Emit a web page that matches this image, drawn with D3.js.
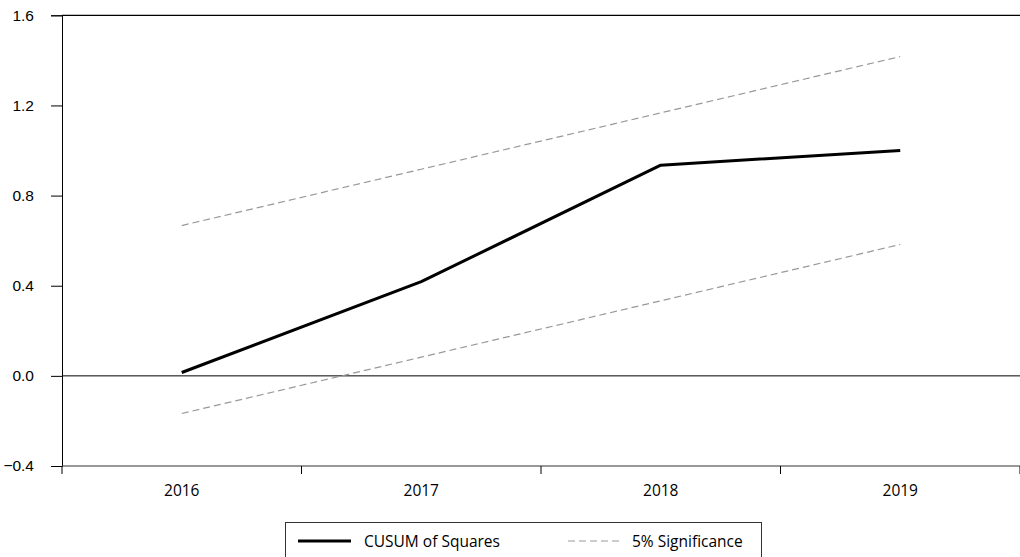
<!DOCTYPE html>
<html>
<head>
<meta charset="utf-8">
<script src="https://cdn.jsdelivr.net/npm/d3@7"></script>
<style>
  html, body { margin: 0; padding: 0; background: #fff; }
  svg { display: block; font-family: "Open Sans", "Noto Sans", sans-serif; }
</style>
</head>
<body>
<svg id="chart" width="1020" height="557"></svg>
<script>
// CUSUM of squares test with 5% significance bounds
const years = ["2016", "2017", "2018", "2019"];
const cusumSq = [0.015, 0.418, 0.935, 1.0];
const upperBound = [0.667, 0.917, 1.167, 1.417];
const lowerBound = [-0.167, 0.083, 0.333, 0.583];
const yTicks = [-0.4, 0.0, 0.4, 0.8, 1.2, 1.6];
const legendLabels = ["CUSUM of Squares", "5% Significance"];

const svg = d3.select("#chart");
const plotLeft = 62, plotRight = 1020, plotTop = 15.3, plotBottom = 466;
const fontSize = 15.5;

const x = d3.scaleBand().domain(years).range([plotLeft, plotRight]).paddingInner(0).paddingOuter(0);
const y = d3.scaleLinear().domain([-0.4, 1.6]).range([plotBottom, plotTop]);
const cx = d => x(d) + x.bandwidth() / 2;

const fmt = v => (v < 0 ? "\u2212" : "") + Math.abs(v).toFixed(1);

// Left axis
const yAxis = svg.append("g")
  .attr("transform", `translate(${plotLeft},0)`)
  .call(d3.axisLeft(y).tickValues(yTicks).tickFormat(fmt).tickSize(11).tickPadding(17));
yAxis.select(".domain").attr("stroke", "#000");
yAxis.selectAll(".tick line").attr("stroke", "#000");
yAxis.selectAll("text").attr("font-size", fontSize).attr("fill", "#000");

// Bottom axis: ticks at category boundaries, labels centred in each band
const boundaries = years.map(d => x(d)).concat([plotRight]);
const xAxisG = svg.append("g").attr("transform", `translate(0,${plotBottom})`);
xAxisG.append("line").attr("x1", plotLeft).attr("x2", plotRight).attr("y1", 0).attr("y2", 0)
  .attr("stroke", "#333").attr("stroke-width", 1.2);
xAxisG.selectAll("line.tk").data(boundaries).join("line").attr("class", "tk")
  .attr("x1", d => d).attr("x2", d => d).attr("y1", 0).attr("y2", 8)
  .attr("stroke", "#000");
xAxisG.selectAll("text").data(years).join("text")
  .attr("x", d => cx(d)).attr("y", 30)
  .attr("text-anchor", "middle").attr("font-size", fontSize).attr("fill", "#000")
  .text(d => d);

// Top frame line
svg.append("line").attr("x1", plotLeft).attr("x2", plotRight).attr("y1", plotTop).attr("y2", plotTop)
  .attr("stroke", "#000").attr("stroke-width", 1.2);

// Zero reference line
svg.append("line").attr("x1", plotLeft).attr("x2", plotRight).attr("y1", y(0)).attr("y2", y(0))
  .attr("stroke", "#000").attr("stroke-width", 1);

const line = d3.line().x((d, i) => cx(years[i])).y(d => y(d));

// Significance bounds
[upperBound, lowerBound].forEach(b => {
  svg.append("path").datum(b).attr("d", line)
    .attr("fill", "none").attr("stroke", "#999").attr("stroke-width", 1.2)
    .attr("stroke-dasharray", "7,4");
});

// CUSUM of squares
svg.append("path").datum(cusumSq).attr("d", line)
  .attr("fill", "none").attr("stroke", "#000").attr("stroke-width", 3)
  .attr("stroke-linejoin", "round");

// Legend
const lg = svg.append("g");
lg.append("rect").attr("x", 285.5).attr("y", 522.5).attr("width", 476).attr("height", 40)
  .attr("fill", "#fff").attr("stroke", "#333").attr("stroke-width", 1);
lg.append("line").attr("x1", 298).attr("x2", 351).attr("y1", 541).attr("y2", 541)
  .attr("stroke", "#000").attr("stroke-width", 3);
lg.append("text").attr("x", 364).attr("y", 547).attr("font-size", fontSize).attr("fill", "#000")
  .text(legendLabels[0]);
lg.append("line").attr("x1", 568).attr("x2", 621).attr("y1", 541).attr("y2", 541)
  .attr("stroke", "#999").attr("stroke-width", 1.2).attr("stroke-dasharray", "7,4");
lg.append("text").attr("x", 632).attr("y", 547).attr("font-size", fontSize).attr("fill", "#000")
  .text(legendLabels[1]);
</script>
</body>
</html>
